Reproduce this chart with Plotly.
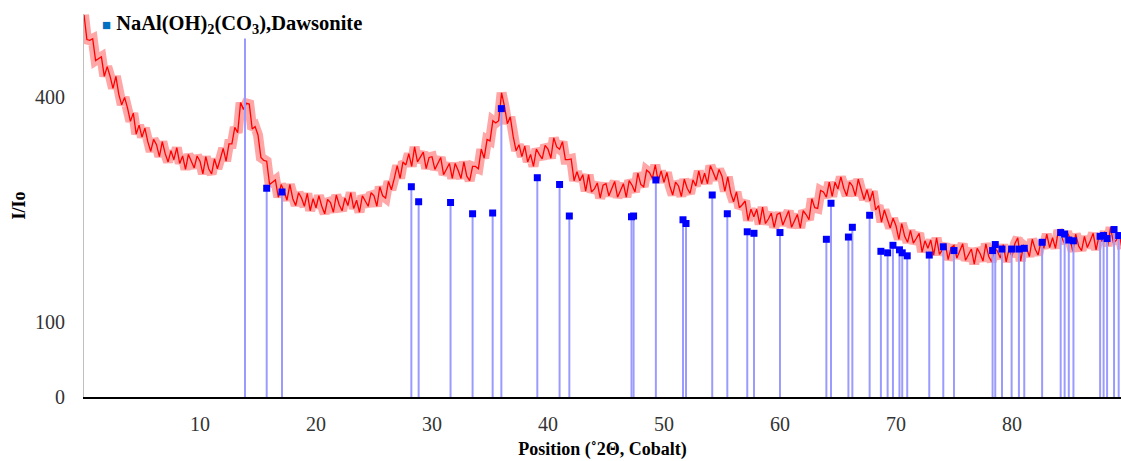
import numpy as np
import plotly.graph_objects as go

# ---- measured pattern (I/Io) sampled every 0.25 deg 2-theta starting at 0 ----
two_theta_start = 0.0
two_theta_step = 0.25
intensity = [
    509, 476, 475, 477, 448, 450, 453, 427, 440, 427, 411, 427, 403, 389, 399, 385, 367, 378, 350, 362,
    346, 358, 340, 327, 343, 336, 320, 340, 324, 313, 328, 316, 332, 311, 321, 303, 323, 314, 305, 321,
    314, 297, 320, 304, 297, 317, 304, 317, 331, 314, 337, 337, 359, 352, 392, 383, 391, 390, 357, 360,
    349, 319, 315, 314, 283, 286, 289, 266, 283, 274, 262, 283, 264, 255, 272, 265, 254, 271, 248, 264,
    252, 268, 254, 244, 263, 259, 246, 269, 256, 248, 265, 255, 272, 251, 262, 246, 268, 261, 254, 272,
    268, 254, 280, 268, 265, 287, 276, 291, 308, 291, 313, 309, 324, 307, 333, 313, 319, 326, 304, 319,
    320, 303, 311, 319, 296, 303, 311, 291, 311, 302, 291, 313, 294, 288, 307, 307, 304, 330, 318, 343,
    341, 368, 365, 368, 405, 387, 364, 373, 347, 328, 336, 320, 334, 313, 323, 307, 330, 323, 317, 335,
    330, 318, 345, 333, 330, 340, 316, 316, 317, 288, 300, 288, 296, 274, 296, 273, 277, 285, 265, 282,
    284, 268, 278, 287, 266, 275, 284, 266, 288, 282, 273, 298, 283, 280, 302, 299, 291, 309, 287, 301,
    286, 299, 281, 269, 286, 281, 267, 290, 278, 271, 289, 281, 301, 284, 298, 284, 308, 299, 289, 303,
    294, 274, 293, 272, 260, 273, 252, 256, 261, 235, 250, 240, 250, 230, 253, 231, 237, 245, 226, 243,
    245, 229, 239, 248, 226, 234, 243, 225, 248, 243, 236, 264, 252, 251, 275, 273, 266, 286, 267, 286,
    277, 293, 278, 268, 286, 281, 268, 290, 275, 263, 276, 261, 274, 249, 255, 233, 249, 237, 225, 238,
    228, 210, 231, 214, 206, 222, 205, 211, 218, 193, 208, 198, 209, 189, 212, 190, 196, 204, 183, 199,
    202, 185, 195, 204, 182, 189, 197, 177, 198, 191, 181, 204, 187, 180, 199, 194, 185, 203, 180, 197,
    187, 204, 212, 181, 202, 199, 187, 210, 197, 189, 207, 198, 217, 199, 212, 198, 222, 214, 205, 220,
    211, 194, 217, 201, 195, 214, 199, 208, 218, 196, 214, 207, 220, 201, 226, 205, 209, 217, 197,
]
two_theta = two_theta_start + two_theta_step * np.arange(len(intensity))

# ---- reference pattern: Dawsonite stick positions and heights ----
peak_pos = [13.88, 15.75, 17.07, 28.22, 28.85, 31.6, 33.5, 35.23, 35.98, 39.08, 41.0, 41.84,
            47.2, 47.38, 49.3, 51.64, 51.9, 54.16, 55.46, 57.18, 57.76, 60.0, 64.0, 64.4,
            65.9, 66.24, 67.73, 68.7, 69.28, 69.74, 70.3, 70.54, 70.97, 72.87, 74.08, 75.0,
            78.33, 78.56, 79.14, 79.97, 80.6, 81.06, 82.6, 84.2, 84.54, 84.9, 85.3, 87.6,
            87.9, 88.2, 88.8, 89.2]
peak_h = [490, 278, 273, 280, 260, 259, 244, 245, 384, 292, 283, 241,
          240, 241, 289, 236, 231, 269, 244, 220, 218, 219, 210, 258,
          213, 226, 242, 194, 192, 202, 196, 192, 188, 189, 200, 195,
          195, 203, 197, 197, 197, 198, 206, 219, 217, 209, 208, 214,
          215, 211, 223, 215]

x_ticks = [10, 20, 30, 40, 50, 60, 70, 80]
y_ticks = [0, 100, 400]
legend_label = "NaAl(OH)<sub>2</sub>(CO<sub>3</sub>),Dawsonite"

FONT = "Liberation Serif"

fig = go.Figure()

# soft noise band behind the trace
fig.add_trace(go.Scatter(
    x=two_theta, y=intensity, mode="lines",
    line=dict(color="rgba(255,0,0,0.35)", width=10),
    showlegend=False, hoverinfo="skip",
))
fig.add_trace(go.Scatter(
    x=two_theta, y=intensity, mode="lines",
    line=dict(color="#ff0000", width=1.3),
    showlegend=False, hoverinfo="skip",
))

fig.add_trace(go.Scatter(
    x=peak_pos, y=peak_h, mode="markers",
    marker=dict(symbol="square", size=7, color="#0000ff"),
    error_y=dict(type="data", symmetric=False, array=[0] * len(peak_h),
                 arrayminus=peak_h, color="#9b9bff", thickness=2, width=0),
    showlegend=False,
))

fig.add_annotation(
    xref="paper", yref="paper", x=0.0154, y=1.010, xanchor="left", yanchor="top",
    text='<span style="color:#0070C0;font-size:15px">■</span> ' + "<b>" + legend_label + "</b>",
    showarrow=False, bgcolor="white", borderpad=1,
    font=dict(family=FONT, size=20.5, color="#000000"),
)

fig.update_layout(
    width=1121, height=461,
    margin=dict(l=84, r=0, t=14, b=64),
    paper_bgcolor="white", plot_bgcolor="white",
    font=dict(family=FONT, color="#333333"),
    showlegend=False,
)

fig.update_xaxes(
    range=[0, 89.4], tickvals=x_ticks, ticktext=[str(v) for v in x_ticks],
    showgrid=False, zeroline=False, showline=True, linecolor="#000000", linewidth=2,
    ticks="", tickfont=dict(family=FONT, size=20, color="#333333"),
    ticklabelstandoff=8,
    title=dict(text="<b>Position (˚2Θ, Cobalt)</b>", font=dict(family=FONT, size=18, color="#000000"),
               standoff=8),
)
fig.update_yaxes(
    range=[0, 510], tickvals=y_ticks, ticktext=[str(v) for v in y_ticks],
    showgrid=False, zeroline=False, showline=True, linecolor="#bfbfbf", linewidth=1,
    ticks="", tickfont=dict(family=FONT, size=20, color="#333333"),
    ticklabelstandoff=14,
    title=dict(text="<b>I/Io</b>", font=dict(family=FONT, size=18, color="#000000"), standoff=4),
)

fig.write_html("out.html")
